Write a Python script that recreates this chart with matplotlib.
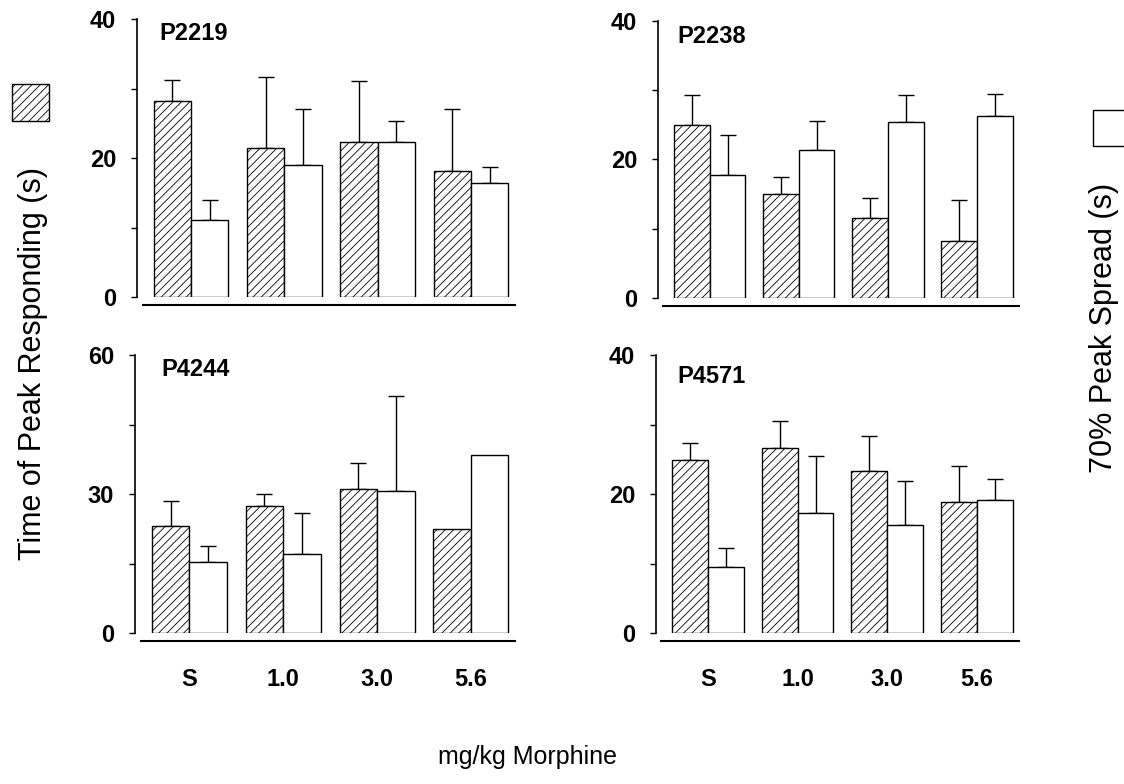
import matplotlib.pyplot as plt
from matplotlib.patches import Rectangle

plt.rcParams['font.family'] = ['Liberation Sans', 'DejaVu Sans']
plt.rcParams['hatch.linewidth'] = 0.6

# doses on the x axis
doses = ['S', '1.0', '3.0', '5.6']

# time of peak responding (hatched bars) and upper error
p2219_peak = [28.2, 21.5, 22.3, 18.1]
p2219_peak_err = [3.0, 10.2, 8.8, 8.9]
p2238_peak = [25.0, 15.0, 11.6, 8.3]
p2238_peak_err = [4.3, 2.5, 2.8, 5.8]
p4244_peak = [23.2, 27.4, 31.1, 22.4]
p4244_peak_err = [5.3, 2.6, 5.5, 0.0]
p4571_peak = [24.9, 26.6, 23.3, 18.8]
p4571_peak_err = [2.5, 3.9, 5.1, 5.2]

# 70% peak spread (open bars) and upper error
p2219_spread = [11.1, 19.0, 22.3, 16.4]
p2219_spread_err = [2.9, 8.0, 3.0, 2.3]
p2238_spread = [17.8, 21.3, 25.4, 26.3]
p2238_spread_err = [5.7, 4.3, 3.9, 3.2]
p4244_spread = [15.4, 17.0, 30.6, 38.4]
p4244_spread_err = [3.4, 8.9, 20.5, 0.0]
p4571_spread = [9.5, 17.2, 15.6, 19.2]
p4571_spread_err = [2.8, 8.3, 6.2, 3.0]

W, H = 1124, 784


def px_rect(left, right, top, bottom):
    return [left / W, (H - bottom) / H, (right - left) / W, (bottom - top) / H]


# name, peak, peak err, spread, spread err, ymax, rect, label offset, bottom row
panels = [
    ('P2219', p2219_peak, p2219_peak_err, p2219_spread, p2219_spread_err, 40,
     px_rect(137, 515, 19, 297), (0.06, 0.99), False),
    ('P2238', p2238_peak, p2238_peak_err, p2238_spread, p2238_spread_err, 40,
     px_rect(658, 1019, 21, 298), (0.053, 0.985), False),
    ('P4244', p4244_peak, p4244_peak_err, p4244_spread, p4244_spread_err, 60,
     px_rect(135, 515, 355, 633), (0.07, 0.99), True),
    ('P4571', p4571_peak, p4571_peak_err, p4571_spread, p4571_spread_err, 40,
     px_rect(656, 1019, 355, 633), (0.058, 0.965), True),
]

fig = plt.figure(figsize=(W / 100, H / 100), dpi=100)
bw = 0.4
xs = list(range(len(doses)))

for name, peak, peak_err, spread, spread_err, ymax, rect, lab, bottom_row in panels:
    ax = fig.add_axes(rect)
    x_h = [x - bw / 2 for x in xs]
    x_w = [x + bw / 2 for x in xs]
    ax.bar(x_h, peak, width=bw, color='white', edgecolor='black', hatch='////', linewidth=1.0, zorder=2)
    ax.bar(x_w, spread, width=bw, color='white', edgecolor='black', linewidth=1.0, zorder=2)
    for xx, v, e in zip(x_h + x_w, peak + spread, peak_err + spread_err):
        if e > 0:
            ax.errorbar([xx], [v], yerr=[[0], [e]], fmt='none', ecolor='black',
                        elinewidth=1.0, capsize=6, capthick=1.0, zorder=1, clip_on=False)
    ax.set_xlim(-0.58, 3.47)
    ax.set_ylim(0, ymax)
    ax.spines['top'].set_visible(False)
    ax.spines['right'].set_visible(False)
    ax.spines['left'].set_linewidth(1.2)
    ax.spines['bottom'].set_linewidth(1.5)
    ax.spines['bottom'].set_position(('outward', 6))
    ax.spines['bottom'].set_bounds(-0.52, 3.47)
    step = ymax / 4
    ax.set_yticks([step * i for i in range(5)])
    ax.set_yticklabels([str(int(step * i)) if i % 2 == 0 else '' for i in range(5)],
                       fontsize=17, fontweight='bold')
    ax.tick_params(axis='y', length=4, width=1, pad=11)
    ax.set_xticks(xs)
    if bottom_row:
        ax.set_xticklabels(doses, fontsize=17, fontweight='bold')
        ax.tick_params(axis='x', length=0, pad=19)
    else:
        ax.set_xticklabels([])
        ax.tick_params(axis='x', length=0)
    ax.text(lab[0], lab[1], name, transform=ax.transAxes, ha='left', va='top',
            fontsize=17, fontweight='bold')

# legend swatches
fig.patches.append(Rectangle((12 / W, (H - 121) / H), 37 / W, 37 / H, transform=fig.transFigure,
                             facecolor='white', edgecolor='black', hatch='////', linewidth=1.0))
fig.patches.append(Rectangle((1093 / W, (H - 146) / H), 40 / W, 36 / H, transform=fig.transFigure,
                             facecolor='white', edgecolor='black', linewidth=1.0))

fig.text(33 / W, (H - 363) / H, 'Time of Peak Responding (s)', rotation=90,
         ha='center', va='center', fontsize=22)
fig.text(1104 / W, (H - 328) / H, '70% Peak Spread (s)', rotation=90,
         ha='center', va='center', fontsize=22)
fig.text(527 / W, (H - 757) / H, 'mg/kg Morphine', ha='center', va='center', fontsize=18)

fig.savefig('out.png', dpi=100)
